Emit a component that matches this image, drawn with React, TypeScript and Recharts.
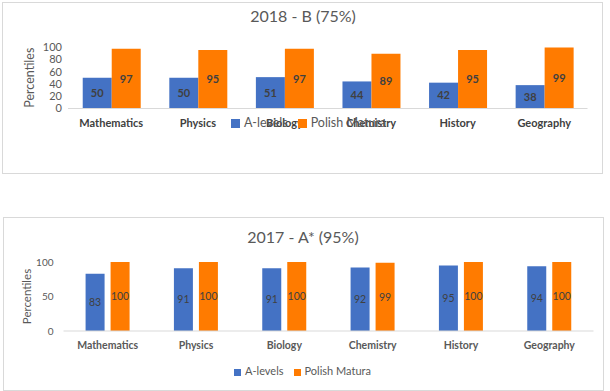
import { BarChart, Bar, XAxis, YAxis, Legend, LabelList } from "recharts";

const subjects = ["Mathematics", "Physics", "Biology", "Chemistry", "History", "Geography"];

const aLevels2018 = [50, 50, 51, 44, 42, 38];
const matura2018 = [97, 95, 97, 89, 95, 99];
const ticks2018 = [0, 20, 40, 60, 80, 100];

const aLevels2017 = [83, 91, 91, 92, 95, 94];
const matura2017 = [100, 100, 100, 99, 100, 100];
const ticks2017 = [0, 50, 100];

const seriesNames = ["A-levels", "Polish Matura"];

const BLUE = "#4472C4";
const ORANGE = "#FF7B00";
const GRID = "#d9d9d9";
const GREY = "#595959";
const DARK = "#404040";

const rows2018 = subjects.map((subject, i) => ({
  subject,
  aLevels: aLevels2018[i],
  matura: matura2018[i],
}));

const rows2017 = subjects.map((subject, i) => ({
  subject,
  aLevels: aLevels2017[i],
  matura: matura2017[i],
}));

// rotated "Percentiles" placed off the y axis box
function sideLabel(dx: number, size: number) {
  return ({ viewBox }: any) => {
    const x = viewBox.x - dx;
    const y = viewBox.y + viewBox.height / 2;
    return (
      <text
        x={x}
        y={y}
        transform={`rotate(-90 ${x} ${y})`}
        textAnchor="middle"
        dominantBaseline="central"
        fontSize={size}
        fill={GREY}
      >
        Percentiles
      </text>
    );
  };
}

const legendText = (v: string) => <span style={{ color: GREY }}>{v}</span>;

const box = (left: number, top: number, width: number, height: number) => ({
  position: "absolute" as const,
  left,
  top,
  width,
  height,
  boxSizing: "border-box" as const,
  border: `1px solid ${GRID}`,
});

const title = (top: number) => ({
  position: "absolute" as const,
  left: 0,
  top,
  width: 606,
  textAlign: "center" as const,
  fontSize: 16,
  lineHeight: "20px",
  color: GREY,
});

export default function App() {
  return (
    <div
      style={{
        position: "absolute",
        left: 0,
        top: 0,
        width: 610,
        height: 391,
        background: "#fff",
        fontFamily: "Lato, 'Noto Sans', sans-serif",
      }}
    >
      <div style={box(2, 2, 601, 172)} />
      <div style={box(3, 217, 601, 174)} />

      <div style={title(6)}>2018 - B (75%)</div>
      <div style={title(227)}>2017 - A* (95%)</div>

      <div style={{ position: "absolute", left: 0, top: 0 }}>
        <BarChart
          width={610}
          height={180}
          data={rows2018}
          margin={{ top: 47, right: 22.5, left: 38, bottom: 41.5 }}
          barCategoryGap="17%"
          barGap={0}
        >
          <XAxis
            dataKey="subject"
            interval={0}
            tickLine={false}
            tickSize={0}
            tickMargin={11}
            height={30}
            axisLine={{ stroke: GRID }}
            tick={{ fontSize: 11, fontWeight: 700, fill: DARK }}
          />
          <YAxis
            domain={[0, 100]}
            ticks={ticks2018}
            interval={0}
            width={30}
            axisLine={false}
            tickLine={false}
            tickSize={0}
            tickMargin={6}
            tick={{ fontSize: 11, fill: GREY }}
            label={{ content: sideLabel(8.7, 12.5) }}
          />
          <Legend
            verticalAlign="middle"
            align="center"
            layout="horizontal"
            iconType="square"
            iconSize={9}
            formatter={legendText}
            wrapperStyle={{ top: 115, left: 160, width: 307, fontSize: 12.5, lineHeight: "16px" }}
          />
          <Bar dataKey="aLevels" name={seriesNames[0]} fill={BLUE} isAnimationActive={false}>
            <LabelList dataKey="aLevels" position="center" fill={DARK} fontSize={11} fontWeight={700} />
          </Bar>
          <Bar dataKey="matura" name={seriesNames[1]} fill={ORANGE} isAnimationActive={false}>
            <LabelList dataKey="matura" position="center" fill={DARK} fontSize={11} fontWeight={700} />
          </Bar>
        </BarChart>
      </div>

      <div style={{ position: "absolute", left: 0, top: 210 }}>
        <BarChart
          width={610}
          height={181}
          data={rows2017}
          margin={{ top: 52, right: 16.5, left: 33.5, bottom: 30 }}
          barCategoryGap="25%"
          barGap={6}
        >
          <XAxis
            dataKey="subject"
            interval={0}
            tickLine={false}
            tickSize={0}
            tickMargin={11}
            height={30}
            axisLine={{ stroke: GRID }}
            tick={{ fontSize: 10.5, fontWeight: 700, fill: GREY }}
          />
          <YAxis
            domain={[0, 100]}
            ticks={ticks2017}
            interval={0}
            width={30}
            axisLine={false}
            tickLine={false}
            tickSize={0}
            tickMargin={10}
            tick={{ fontSize: 10, fill: GREY }}
            label={{ content: sideLabel(7.5, 11.5) }}
          />
          <Legend
            verticalAlign="middle"
            align="center"
            layout="horizontal"
            iconType="square"
            iconSize={7}
            formatter={legendText}
            wrapperStyle={{ top: 154, left: 0, width: 615, fontSize: 11, lineHeight: "14px" }}
          />
          <Bar dataKey="aLevels" name={seriesNames[0]} fill={BLUE} isAnimationActive={false}>
            <LabelList dataKey="aLevels" position="center" fill={DARK} fontSize={10.5} />
          </Bar>
          <Bar dataKey="matura" name={seriesNames[1]} fill={ORANGE} isAnimationActive={false}>
            <LabelList dataKey="matura" position="center" fill={DARK} fontSize={10.5} />
          </Bar>
        </BarChart>
      </div>
    </div>
  );
}
